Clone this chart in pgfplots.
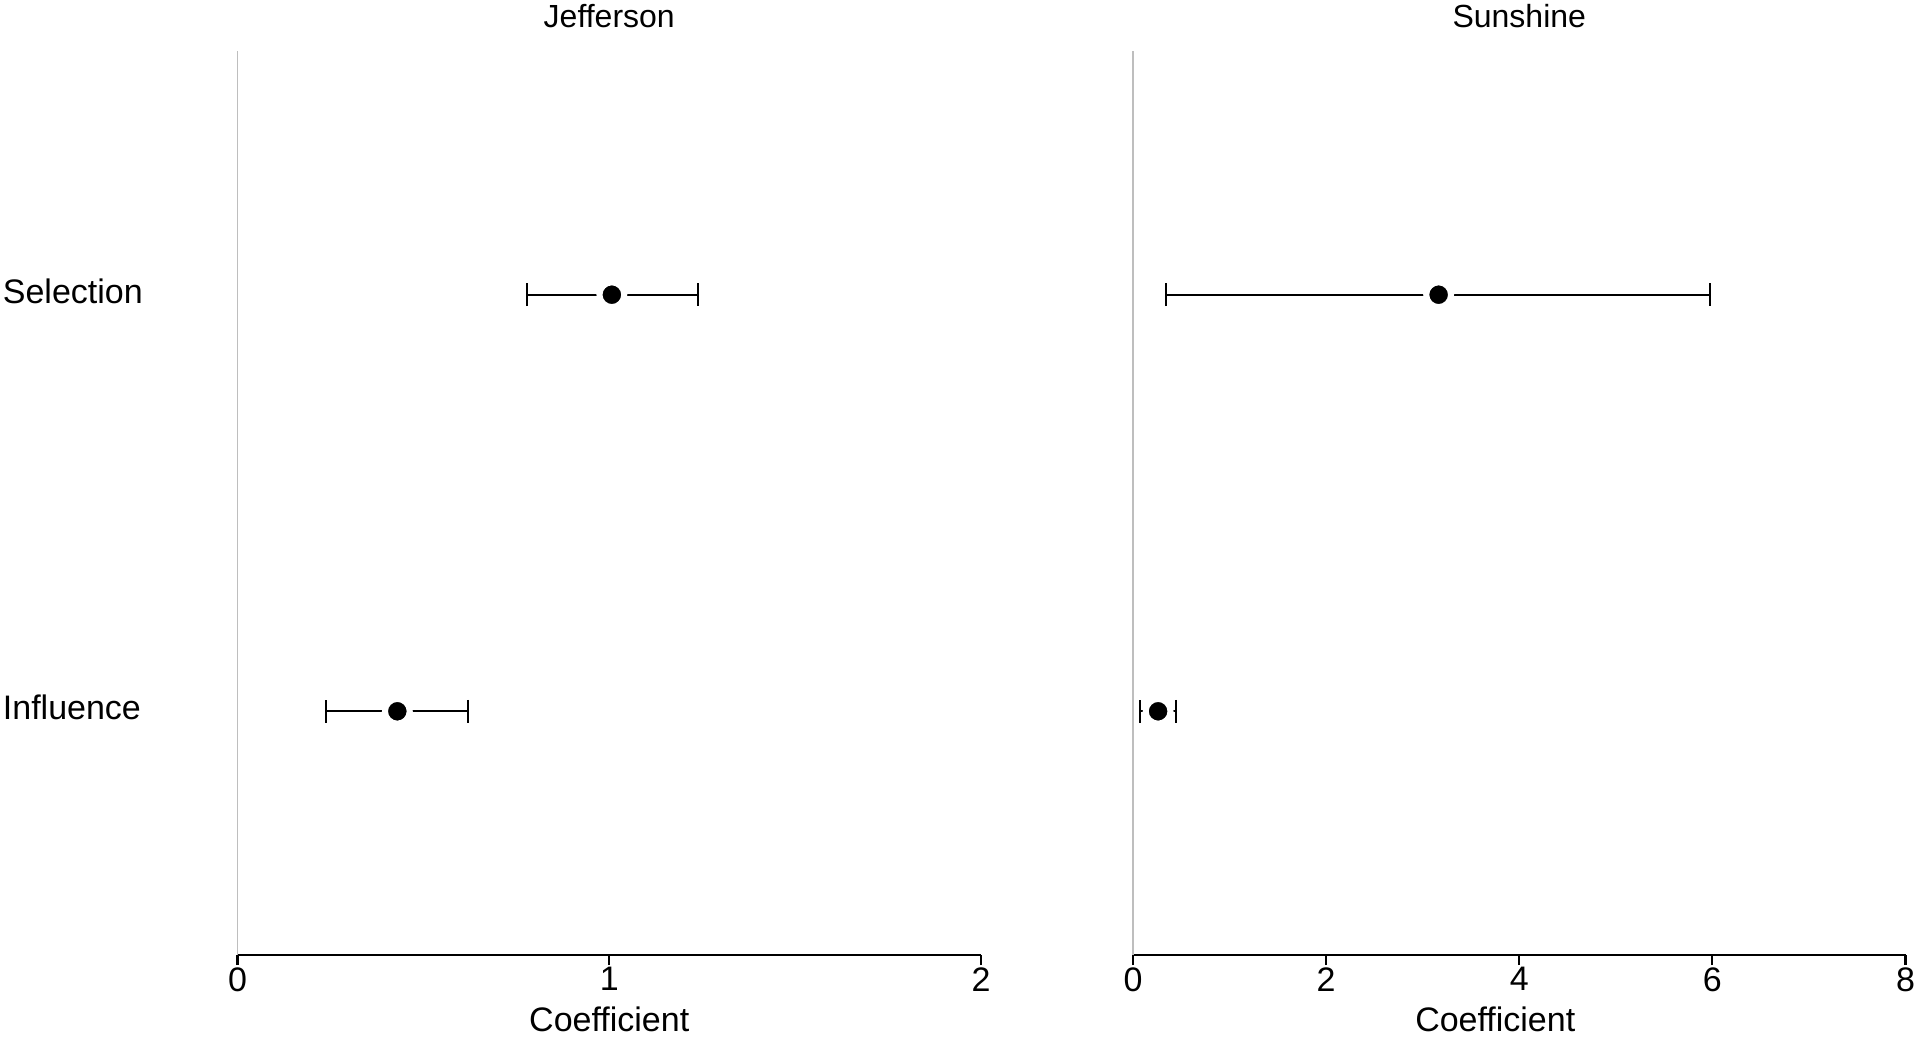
\documentclass[border=0pt]{standalone}
\usepackage{pgfplots}
\usepackage{pgfplotstable}
\pgfplotsset{compat=1.18}
\usepackage{fontspec}
\setmainfont{Liberation Sans}
\definecolor{zeroline}{RGB}{190,190,190}

\pgfplotstableread{
y c lo hi
2 1.007 0.778 1.238
1 0.430 0.237 0.621
}\jeff
\pgfplotstableread{
y c lo hi
2 3.165 0.345 5.978
1 0.260 0.068 0.445
}\sun

\pgfplotsset{
  coefstyle/.style={
    scale only axis, height=452bp,
    ymin=0.415, ymax=2.585,
    axis x line*=bottom, axis y line*=left,
    x axis line style={-, black, line width=1.1bp},
    y axis line style={-, zeroline, line width=0.75bp},
    tick align=outside,
    major tick length=5bp,
    x tick style={black, line width=1.1bp},
    ytick={1,2}, y tick style={draw=none},
    /pgf/number format/assume math mode=true,
    xticklabel style={anchor=north, inner sep=0pt, yshift=-1bp},
    xlabel=Coefficient,
    xlabel style={at={(axis description cs:0.5,0)}, anchor=base, yshift=-38bp, inner sep=0pt},
    title style={at={(axis description cs:0.5,1)}, anchor=base, yshift=6bp, inner sep=0pt, font=\fontsize{16bp}{19bp}\selectfont},
    clip=false,
  },
  ebar/.style={black, only marks, mark=none,
    error bars/.cd, x dir=both, x explicit,
    error bar style={line width=1bp, black},
    error mark options={black, line width=1bp, mark size=5.7bp, rotate=90}},
  dot/.style={only marks, mark=*, mark size=6.2bp,
    mark options={fill=black, draw=white, line width=3bp}},
}

\begin{document}
\begin{tikzpicture}[font=\fontsize{17bp}{20bp}\selectfont]
\begin{axis}[coefstyle, at={(118.75bp,41.5bp)}, anchor=south west,
  width=371.75bp, xmin=0, xmax=2, xtick={0,1,2},
  title={Jefferson},
  yticklabels={Influence,Selection},
  yticklabel style={anchor=west, inner sep=0pt, xshift=-112.5bp, yshift=1.8bp}]
\addplot[ebar] table[x=c, y=y, x error plus expr=\thisrow{hi}-\thisrow{c}, x error minus expr=\thisrow{c}-\thisrow{lo}]{\jeff};
\addplot[dot] table[x=c, y=y]{\jeff};
\end{axis}
\begin{axis}[coefstyle, at={(566.5bp,41.5bp)}, anchor=south west,
  width=386.25bp, xmin=0, xmax=8, xtick={0,2,4,6,8},
  title={Sunshine},
  xlabel style={xshift=-12bp},
  ymajorticks=false]
\addplot[ebar] table[x=c, y=y, x error plus expr=\thisrow{hi}-\thisrow{c}, x error minus expr=\thisrow{c}-\thisrow{lo}]{\sun};
\addplot[dot] table[x=c, y=y]{\sun};
\end{axis}
\pgfresetboundingbox
\path[use as bounding box] (0,0) rectangle (960bp,519bp);
\end{tikzpicture}
\end{document}
